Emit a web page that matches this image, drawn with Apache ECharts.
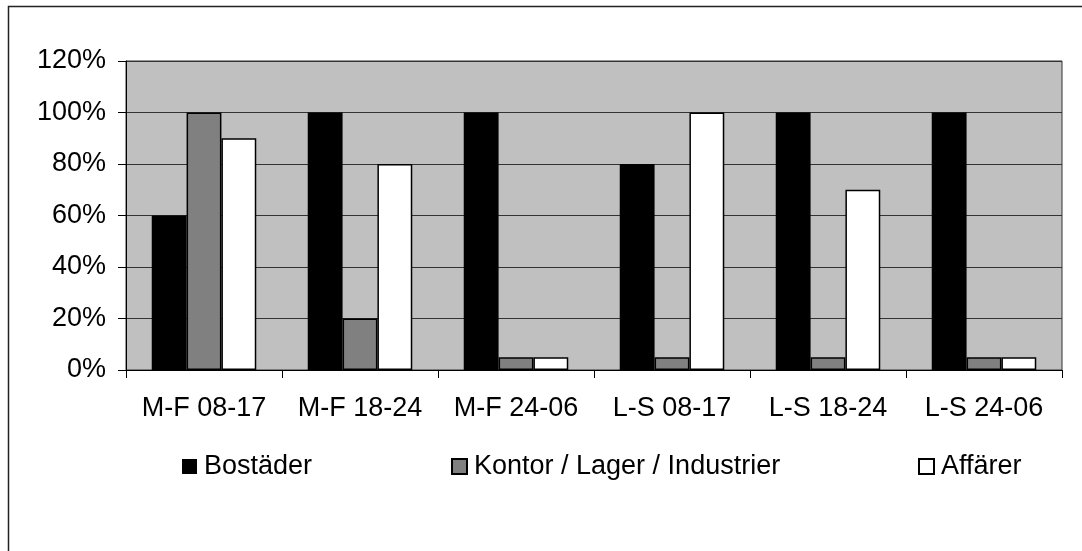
<!DOCTYPE html>
<html>
<head>
<meta charset="utf-8">
<script src="https://cdn.jsdelivr.net/npm/echarts@6/dist/echarts.min.js"></script>
<style>
  html, body { margin: 0; padding: 0; background: #fff; }
  #main { width: 1082px; height: 551px; }
</style>
</head>
<body>
<div id="main"></div>
<script>
// kategorier och värden (procent)
var categories = ['M-F 08-17', 'M-F 18-24', 'M-F 24-06', 'L-S 08-17', 'L-S 18-24', 'L-S 24-06'];
var seriesNames = ['Bostäder', 'Kontor / Lager / Industrier', 'Affärer'];
var bostader = [60, 100, 100, 80, 100, 100];
var kontor = [100, 20, 5, 5, 5, 5];
var affarer = [90, 80, 5, 100, 70, 5];

var fontF = '"Liberation Sans", Arial, sans-serif';
var colors = ['#000000', '#808080', '#ffffff'];

var myChart = echarts.init(document.getElementById('main'));

function legendFun(name, left) {
	return {
		data: [name],
		left: left,
		top: 453,
		icon: 'rect',
		itemWidth: 15,
		itemHeight: 15,
		itemGap: 0,
		padding: 0,
		selectedMode: false,
		textStyle: { fontFamily: fontF, fontSize: 27, color: '#000', padding: [0, 0, 0, 2] }
	};
}

function barFun(name, data, color) {
	return {
		name: name,
		type: 'bar',
		data: data,
		barGap: '0%',
		barCategoryGap: '33%',
		itemStyle: { color: color, borderColor: '#000', borderWidth: color == '#000000' ? 0 : 1.5 }
	};
}

var option = {
	animation: false,
	color: colors,
	graphic: [{
		type: 'rect',
		shape: { x: 8.5, y: 6.5, width: 1200, height: 700 },
		style: { fill: 'none', stroke: '#222', lineWidth: 1.5 },
		silent: true
	}],
	legend: [
		legendFun(seriesNames[0], 182),
		legendFun(seriesNames[1], 451),
		legendFun(seriesNames[2], 918)
	],
	grid: {
		left: 126, right: 20, top: 61, bottom: 181,
		show: true,
		backgroundColor: '#C0C0C0',
		borderColor: '#333',
		borderWidth: 1
	},
	xAxis: {
		type: 'category',
		data: categories,
		axisLine: { lineStyle: { color: '#000', width: 1 } },
		axisTick: { show: true, length: 8, lineStyle: { color: '#000' } },
		axisLabel: { fontFamily: fontF, fontSize: 27, color: '#000', margin: 25, interval: 0, hideOverlap: false }
	},
	yAxis: {
		type: 'value',
		min: 0,
		max: 120,
		interval: 20,
		axisLine: { show: true, lineStyle: { color: '#000' } },
		axisTick: { show: true, length: 8, lineStyle: { color: '#000' } },
		axisLabel: { fontFamily: fontF, fontSize: 27, color: '#000', margin: 20, formatter: '{value}%' },
		splitLine: { lineStyle: { color: '#333', width: 1 } }
	},
	series: [
		barFun(seriesNames[0], bostader, colors[0]),
		barFun(seriesNames[1], kontor, colors[1]),
		barFun(seriesNames[2], affarer, colors[2])
	]
};

myChart.setOption(option);
</script>
</body>
</html>
